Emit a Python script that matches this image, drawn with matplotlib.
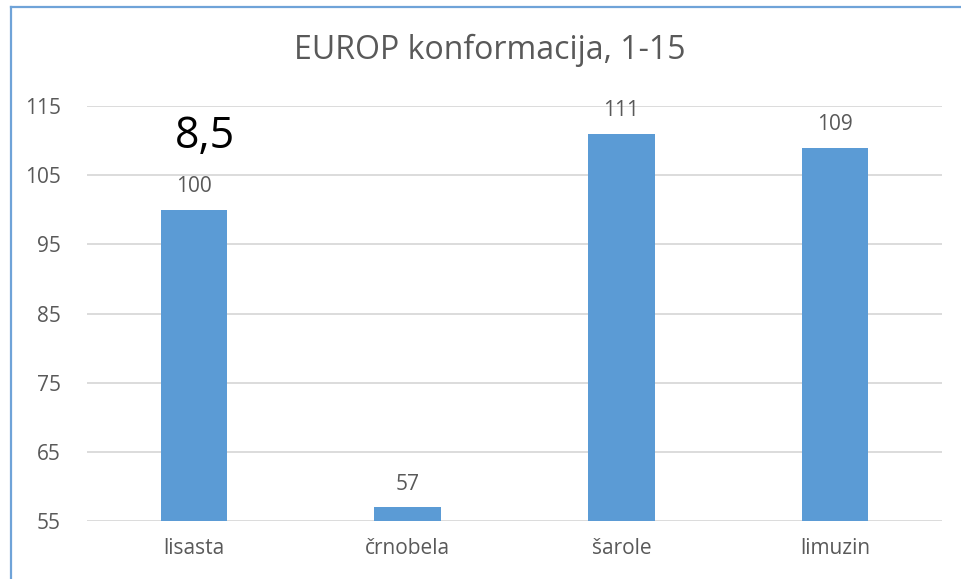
import matplotlib
matplotlib.use("Agg")
import matplotlib.pyplot as plt
from matplotlib.lines import Line2D

categories = ["lisasta", "črnobela", "šarole", "limuzin"]
values = [100, 57, 111, 109]
yticks = [55, 65, 75, 85, 95, 105, 115]
title = "EUROP konformacija, 1-15"
note = "8,5"

BAR = "#5B9BD5"
GRID = "#D9D9D9"
TEXT = "#595959"

plt.rcParams["font.family"] = ["Open Sans", "DejaVu Sans"]

fig = plt.figure(figsize=(9.62, 5.79), dpi=100)
ax = fig.add_axes([87 / 962, 1 - 521 / 579, 855 / 962, 415 / 579])

x = range(len(categories))
bars = ax.bar(x, values, width=0.31, color=BAR, zorder=3)
ax.set_xlim(-0.5, len(categories) - 0.5)
ax.set_ylim(55, 115)
ax.set_yticks(yticks)
ax.set_xticks(list(x))
ax.set_xticklabels(categories)

ax.grid(axis="y", color=GRID, linewidth=1.3, zorder=0)
for s in ax.spines.values():
    s.set_visible(False)
ax.tick_params(length=0, labelsize=15, colors=TEXT)
ax.tick_params(axis="y", pad=19)
ax.tick_params(axis="x", pad=12)

for b, v in zip(bars, values):
    ax.annotate(str(v), (b.get_x() + b.get_width() / 2, v),
                xytext=(0, 9), textcoords="offset points",
                ha="center", va="bottom", fontsize=15, color=TEXT)

# big note over the first bar
ax.text(0.05, 110.5, note, ha="center", va="center", fontsize=31, color="black")

fig.text(490 / 962, 1 - 50 / 579, title, ha="center", va="center",
         fontsize=23, color=TEXT)

# chart frame (top and left edges visible)
frame = dict(color="#6FA3D8", linewidth=1.6, transform=fig.transFigure)
fig.add_artist(Line2D([11 / 962, 1], [1 - 7 / 579, 1 - 7 / 579], **frame))
fig.add_artist(Line2D([11 / 962, 11 / 962], [0, 1 - 7 / 579], **frame))

fig.savefig("out.png", dpi=100)
